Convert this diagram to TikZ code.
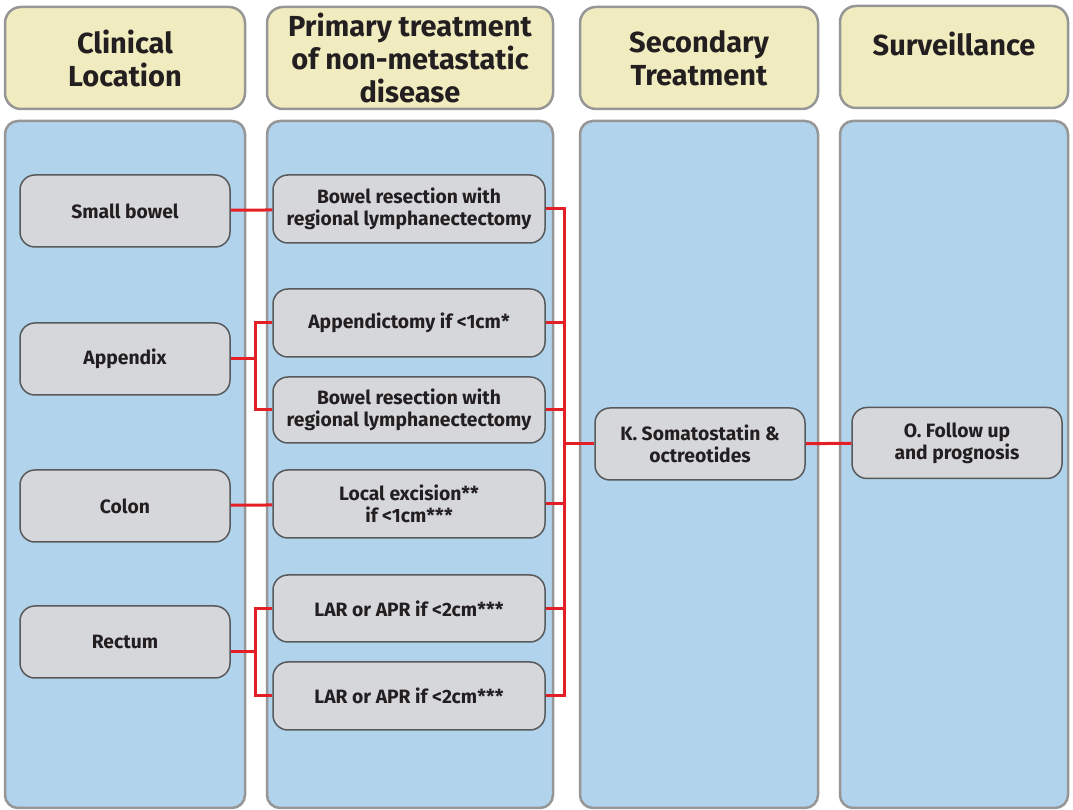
\documentclass[tikz,border=0pt]{standalone}
\usepackage{fontspec}
\setmainfont{Fira Sans}
\definecolor{hdrfill}{RGB}{241,236,191}
\definecolor{panelfill}{RGB}{177,211,236}
\definecolor{boxfill}{RGB}{214,215,218}
\definecolor{rimgray}{RGB}{150,150,150}
\definecolor{boxrim}{RGB}{88,89,91}
\definecolor{linkred}{RGB}{228,32,38}
\definecolor{inkdark}{RGB}{35,31,32}
\begin{document}
\begin{tikzpicture}[
  hdr/.style={draw=rimgray,line width=2.5bp,fill=hdrfill,rounded corners=16bp,align=center,text=inkdark,font=\fontsize{29bp}{33bp}\selectfont\bfseries,inner sep=0pt},
  panel/.style={draw=rimgray,line width=2.5bp,fill=panelfill,rounded corners=13bp,inner sep=0pt},
  box/.style={draw=boxrim,line width=1.5bp,fill=boxfill,rounded corners=15bp,align=center,text=inkdark,font=\fontsize{19.3bp}{22bp}\selectfont\bfseries,inner sep=0pt},
  link/.style={draw=linkred,line width=3bp},
]
\useasboundingbox (0bp,0bp) rectangle (1073bp,810bp);
%% headers and panels
\node (hdr_location) at (125bp,752bp) [hdr,minimum width=240bp,minimum height=102bp] {Clinical\\Location};
  \node (hdr_primary) at (410bp,752bp) [hdr,minimum width=286bp,minimum height=102bp] {Primary treatment\\of non-metastatic\\disease};
  \node (hdr_secondary) at (699bp,752bp) [hdr,minimum width=238bp,minimum height=102bp] {Secondary\\Treatment};
  \node (hdr_surveillance) at (954bp,753bp) [hdr,minimum width=228bp,minimum height=102bp,text height=21bp,text depth=23bp] {Surveillance};
  \node (panel_location) at (125bp,345.5bp) [panel,minimum width=240bp,minimum height=687bp] {};
  \node (panel_primary) at (410bp,345.5bp) [panel,minimum width=286bp,minimum height=687bp] {};
  \node (panel_secondary) at (699bp,345.5bp) [panel,minimum width=238bp,minimum height=687bp] {};
  \node (panel_surveillance) at (954bp,345.5bp) [panel,minimum width=228bp,minimum height=687bp] {};
%% boxes
\node (node_smallbowel) at (125bp,599bp) [box,minimum width=210bp,minimum height=72bp] {Small bowel};
  \node (node_appendix) at (125bp,451bp) [box,minimum width=210bp,minimum height=72bp] {Appendix};
  \node (node_colon) at (125bp,304bp) [box,minimum width=210bp,minimum height=72bp] {Colon};
  \node (node_rectum) at (125bp,168bp) [box,minimum width=210bp,minimum height=72bp] {Rectum};
  \node (node_resection_a) at (409bp,601bp) [box,minimum width=272bp,minimum height=68bp] {Bowel resection with\\regional lymphanectectomy};
  \node (node_appendictomy) at (409bp,487bp) [box,minimum width=272bp,minimum height=68bp] {Appendictomy if <1cm*};
  \node (node_resection_b) at (409bp,400bp) [box,minimum width=272bp,minimum height=66bp] {Bowel resection with\\regional lymphanectectomy};
  \node (node_excision) at (409bp,306bp) [box,minimum width=272bp,minimum height=68bp] {Local excision**\\if <1cm***};
  \node (node_lar_a) at (409bp,201.5bp) [box,minimum width=272bp,minimum height=67bp] {LAR or APR if <2cm***};
  \node (node_lar_b) at (409bp,114bp) [box,minimum width=272bp,minimum height=68bp] {LAR or APR if <2cm***};
  \node (node_somatostatin) at (700bp,366bp) [box,minimum width=210bp,minimum height=72bp] {K. Somatostatin \&\\octreotides};
  \node (node_followup) at (957bp,367bp) [box,minimum width=210bp,minimum height=71bp] {O. Follow up\\and prognosis};
%% junctions
\coordinate (join_appendix) at (255bp,451bp);
  \coordinate (join_rectum) at (255bp,158bp);
  \coordinate (join_bus) at (564bp,366bp);
%% links
\draw [link] (node_smallbowel) -- (node_resection_a);
  \draw [link] (node_colon) -- (node_excision);
  \draw [link] (node_appendix.east) -- (join_appendix);
  \draw [link] (node_appendictomy.west) -| (join_appendix) |- (node_resection_b.west);
  \draw [link] (node_rectum.east |- join_rectum) -- (join_rectum);
  \draw [link] (node_lar_a.west) -| (join_rectum) |- (node_lar_b.west);
  \draw [link] (node_resection_a.east) -| (join_bus) |- (node_lar_b.east);
  \draw [link] (node_appendictomy.east) -- (node_appendictomy.east -| join_bus);
  \draw [link] (node_resection_b.east) -- (node_resection_b.east -| join_bus);
  \draw [link] (node_excision.east) -- (node_excision.east -| join_bus);
  \draw [link] (node_lar_a.east) -- (node_lar_a.east -| join_bus);
  \draw [link] (join_bus) -- (node_somatostatin.west);
  \draw [link] (node_somatostatin) -- (node_followup);
%
\end{tikzpicture}
\end{document}
